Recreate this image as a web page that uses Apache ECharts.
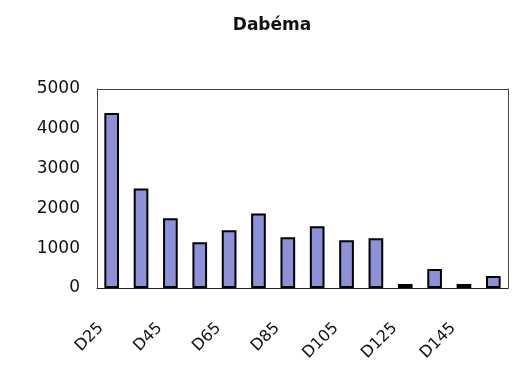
<!DOCTYPE html>
<html>
<head>
<meta charset="utf-8">
<script src="https://cdn.jsdelivr.net/npm/echarts@6/dist/echarts.min.js"></script>
<style>html,body{margin:0;padding:0;background:#fff;}#c{width:527px;height:368px;}</style>
</head>
<body>
<div id="c"></div>
<script>
var categories = ['D25','D35','D45','D55','D65','D75','D85','D95','D105','D115','D125','D135','D145','D155'];
var values = [4400, 2500, 1750, 1150, 1450, 1875, 1275, 1550, 1200, 1250, 100, 475, 100, 300];
var yTicks = [0, 1000, 2000, 3000, 4000, 5000];

var font = 'DejaVu Sans, Verdana, sans-serif';
var chart = echarts.init(document.getElementById('c'));
chart.setOption({
  animation: false,
  backgroundColor: '#fff',
  title: {
    text: 'Dabéma', left: 267, top: 12, textAlign: 'center',
    textStyle: {fontFamily: font, fontSize: 17, fontWeight: 'bold', color: '#111'}
  },
  grid: {left: 97, top: 89, right: 19, bottom: 80},
  xAxis: {
    type: 'category', data: categories,
    axisLine: {lineStyle: {color: '#222', width: 1}},
    axisTick: {show: false},
    axisLabel: {interval: 1, rotate: 45, margin: 27, padding: [0, 15, 0, 0], fontFamily: font, fontSize: 16, color: '#111'}
  },
  yAxis: [{
    type: 'value', min: yTicks[0], max: yTicks[yTicks.length - 1], interval: 1000,
    splitLine: {show: false},
    axisLine: {show: true, lineStyle: {color: '#444'}},
    axisTick: {show: false},
    axisLabel: {margin: 17, fontFamily: font, fontSize: 17, color: '#111', formatter: function (v) { return String(v); }}
  }, {
    type: 'value', min: yTicks[0], max: yTicks[yTicks.length - 1], interval: 1000, position: 'right',
    splitLine: {show: false},
    axisLine: {show: true, lineStyle: {color: '#444'}},
    axisTick: {show: false}, axisLabel: {show: false}
  }],
  series: [{
    type: 'bar', data: values, barWidth: '50%',
    itemStyle: {color: '#8c91da', borderColor: '#000', borderWidth: 2},
    markLine: {
      silent: true, symbol: 'none', label: {show: false},
      lineStyle: {type: 'solid', color: '#444', width: 1.2},
      data: [{yAxis: yTicks[yTicks.length - 1]}]
    }
  }]
});
</script>
</body>
</html>
